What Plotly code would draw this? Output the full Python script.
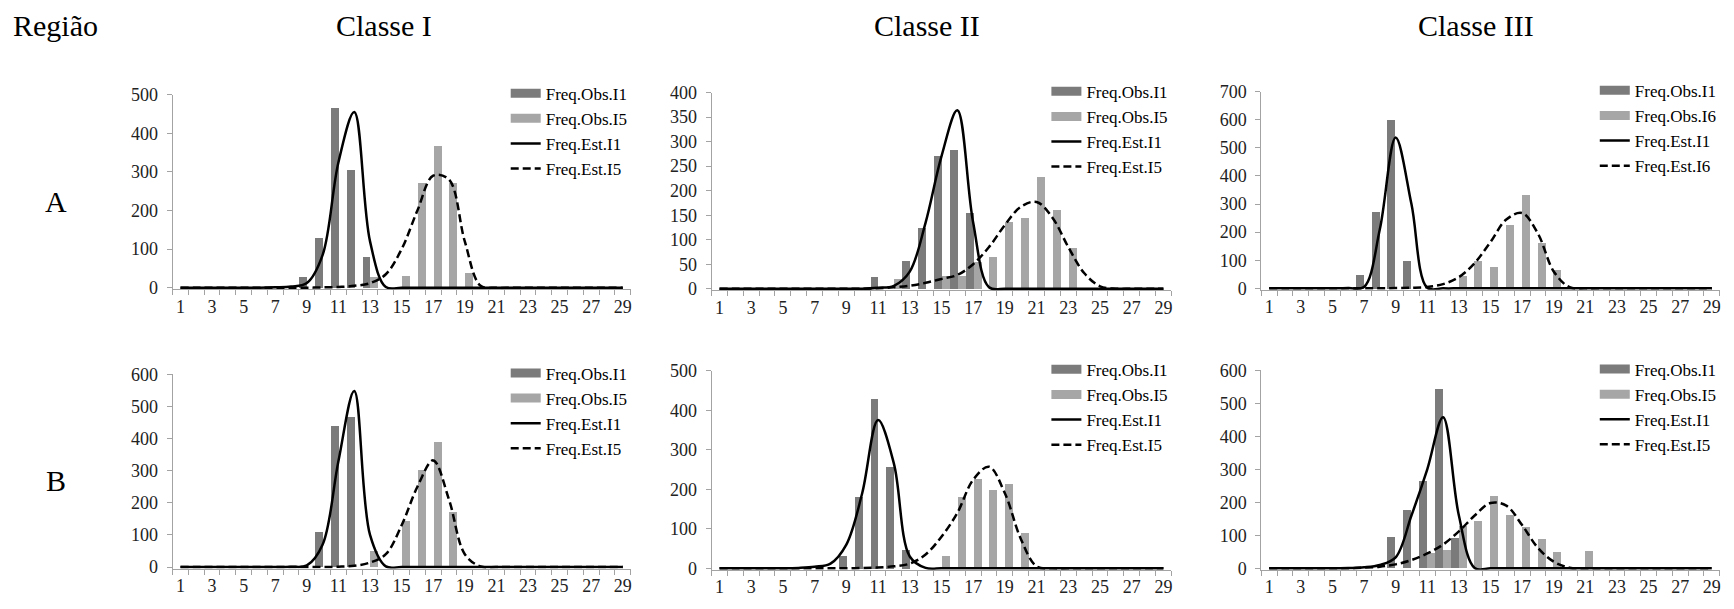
import plotly.graph_objects as go

W, H = 1734, 609

# ---------------- data ----------------
categories = list(range(1, 30))
tick_values = list(range(1, 30, 2))
tick_labels = [str(v) for v in tick_values]

corner_title = "Região"
col_titles = ["Classe I", "Classe II", "Classe III"]
row_titles = ["A", "B"]

# Região A - Classe I
a1_obs_i1 = [0, 0, 0, 0, 0, 0, 0, 0, 28, 130, 467, 307, 81, 0, 0, 0, 0, 0, 0, 0, 0, 0, 0, 0, 0, 0, 0, 0, 0]
a1_obs_i5 = [0, 0, 0, 0, 0, 0, 0, 0, 0, 0, 0, 0, 28, 0, 31, 271, 367, 271, 40, 0, 0, 0, 0, 0, 0, 0, 0, 0, 0]
a1_est_i1 = [0, 0, 0, 0, 0, 0, 1, 3, 12, 85, 325, 455, 120, 2, 0, 0, 0, 0, 0, 0, 0, 0, 0, 0, 0, 0, 0, 0, 0]
a1_est_i5 = [0, 0, 0, 0, 0, 0, 0, 0, 0, 1, 2, 5, 12, 35, 100, 200, 290, 280, 120, 5, 0, 0, 0, 0, 0, 0, 0, 0, 0]

# Região A - Classe II
a2_obs_i1 = [0, 0, 0, 0, 0, 0, 0, 0, 0, 0, 24, 0, 58, 125, 271, 284, 155, 0, 0, 0, 0, 0, 0, 0, 0, 0, 0, 0, 0]
a2_obs_i5 = [0, 0, 0, 0, 0, 0, 0, 0, 0, 0, 0, 21, 0, 0, 26, 27, 55, 65, 137, 144, 228, 161, 84, 0, 0, 0, 0, 0, 0]
a2_est_i1 = [0, 0, 0, 0, 0, 0, 0, 0, 0, 0, 2, 6, 35, 135, 270, 364, 135, 3, 0, 0, 0, 0, 0, 0, 0, 0, 0, 0, 0]
a2_est_i5 = [0, 0, 0, 0, 0, 0, 0, 0, 0, 0, 1, 3, 6, 12, 20, 28, 50, 85, 130, 167, 177, 145, 85, 32, 5, 0, 0, 0, 0]

# Região A - Classe III
a3_obs_i1 = [0, 0, 0, 0, 0, 0, 48, 272, 600, 98, 0, 0, 0, 0, 0, 0, 0, 0, 0, 0, 0, 0, 0, 0, 0, 0, 0, 0, 0]
a3_obs_i6 = [0, 0, 0, 0, 0, 0, 0, 0, 0, 0, 0, 0, 45, 98, 77, 226, 333, 163, 66, 0, 0, 0, 0, 0, 0, 0, 0, 0, 0]
a3_est_i1 = [0, 0, 0, 0, 0, 1, 5, 210, 537, 300, 2, 0, 0, 0, 0, 0, 0, 0, 0, 0, 0, 0, 0, 0, 0, 0, 0, 0, 0]
a3_est_i6 = [0, 0, 0, 0, 0, 0, 0, 0, 1, 2, 5, 15, 40, 90, 165, 245, 268, 195, 60, 4, 0, 0, 0, 0, 0, 0, 0, 0, 0]

# Região B - Classe I
b1_obs_i1 = [0, 0, 0, 0, 0, 0, 0, 0, 0, 108, 437, 467, 0, 0, 0, 0, 0, 0, 0, 0, 0, 0, 0, 0, 0, 0, 0, 0, 0]
b1_obs_i5 = [0, 0, 0, 0, 0, 0, 0, 0, 0, 0, 0, 0, 48, 0, 141, 300, 387, 172, 0, 0, 0, 0, 0, 0, 0, 0, 0, 0, 0]
b1_est_i1 = [0, 0, 0, 0, 0, 0, 0, 1, 5, 70, 330, 548, 100, 2, 0, 0, 0, 0, 0, 0, 0, 0, 0, 0, 0, 0, 0, 0, 0]
b1_est_i5 = [0, 0, 0, 0, 0, 0, 0, 0, 0, 0, 1, 4, 14, 40, 130, 250, 332, 210, 40, 2, 0, 0, 0, 0, 0, 0, 0, 0, 0]

# Região B - Classe II
b2_obs_i1 = [0, 0, 0, 0, 0, 0, 0, 0, 33, 180, 430, 256, 46, 0, 0, 0, 0, 0, 0, 0, 0, 0, 0, 0, 0, 0, 0, 0, 0]
b2_obs_i5 = [0, 0, 0, 0, 0, 0, 0, 0, 0, 0, 0, 0, 0, 0, 33, 180, 228, 200, 215, 90, 0, 0, 0, 0, 0, 0, 0, 0, 0]
b2_est_i1 = [0, 0, 0, 0, 0, 1, 4, 12, 60, 190, 375, 265, 30, 1, 0, 0, 0, 0, 0, 0, 0, 0, 0, 0, 0, 0, 0, 0, 0]
b2_est_i5 = [0, 0, 0, 0, 0, 0, 0, 0, 0, 1, 2, 5, 12, 35, 80, 140, 224, 257, 190, 75, 5, 0, 0, 0, 0, 0, 0, 0, 0]

# Região B - Classe III
b3_obs_i1 = [0, 0, 0, 0, 0, 0, 0, 0, 95, 175, 265, 542, 90, 0, 0, 0, 0, 0, 0, 0, 0, 0, 0, 0, 0, 0, 0, 0, 0]
b3_obs_i5 = [0, 0, 0, 0, 0, 0, 0, 0, 0, 0, 45, 55, 128, 141, 218, 160, 123, 87, 49, 0, 52, 0, 0, 0, 0, 0, 0, 0, 0]
b3_est_i1 = [0, 0, 0, 0, 0, 1, 3, 10, 33, 160, 300, 458, 160, 1, 0, 0, 0, 0, 0, 0, 0, 0, 0, 0, 0, 0, 0, 0, 0]
b3_est_i5 = [0, 0, 0, 0, 0, 0, 2, 5, 12, 25, 45, 72, 112, 160, 198, 190, 131, 62, 20, 2, 0, 0, 0, 0, 0, 0, 0, 0, 0]

panels = [
    dict(obs=[a1_obs_i1, a1_obs_i5], est=[a1_est_i1, a1_est_i5],
         obs_names=["Freq.Obs.I1", "Freq.Obs.I5"], est_names=["Freq.Est.I1", "Freq.Est.I5"], ymax=500, dtick=100),
    dict(obs=[a2_obs_i1, a2_obs_i5], est=[a2_est_i1, a2_est_i5],
         obs_names=["Freq.Obs.I1", "Freq.Obs.I5"], est_names=["Freq.Est.I1", "Freq.Est.I5"], ymax=400, dtick=50),
    dict(obs=[a3_obs_i1, a3_obs_i6], est=[a3_est_i1, a3_est_i6],
         obs_names=["Freq.Obs.I1", "Freq.Obs.I6"], est_names=["Freq.Est.I1", "Freq.Est.I6"], ymax=700, dtick=100),
    dict(obs=[b1_obs_i1, b1_obs_i5], est=[b1_est_i1, b1_est_i5],
         obs_names=["Freq.Obs.I1", "Freq.Obs.I5"], est_names=["Freq.Est.I1", "Freq.Est.I5"], ymax=600, dtick=100),
    dict(obs=[b2_obs_i1, b2_obs_i5], est=[b2_est_i1, b2_est_i5],
         obs_names=["Freq.Obs.I1", "Freq.Obs.I5"], est_names=["Freq.Est.I1", "Freq.Est.I5"], ymax=500, dtick=100),
    dict(obs=[b3_obs_i1, b3_obs_i5], est=[b3_est_i1, b3_est_i5],
         obs_names=["Freq.Obs.I1", "Freq.Obs.I5"], est_names=["Freq.Est.I1", "Freq.Est.I5"], ymax=600, dtick=100),
]

# ---------------- geometry / style ----------------
# (left px, right px, top px, zero-line px) for each panel
geom = [
    (172.7, 631.0, 87.3, 286.7),
    (712.0, 1172.0, 85.3, 287.7),
    (1262.0, 1720.7, 84.3, 287.3),
    (172.7, 631.0, 376.0, 575.0),
    (712.0, 1172.0, 372.3, 576.3),
    (1262.0, 1720.7, 372.0, 576.3),
]

SERIF = "Liberation Serif"
BAR_COLORS = ["#7b7b7b", "#a6a6a6"]
AXIS_COLOR = "#a3a3a3"
LINE_DASH = ["solid", "8px,4px"]

fig = go.Figure()
layout = dict(
    width=W, height=H,
    margin=dict(l=0, r=0, t=0, b=0),
    paper_bgcolor="white", plot_bgcolor="white",
    barmode="group", bargap=0, bargroupgap=0,
    font=dict(family=SERIF, color="black"),
    annotations=[],
)

for i, (p, g) in enumerate(zip(panels, geom)):
    n = i + 1
    sfx = "" if n == 1 else str(n)
    xa, ya = "x" + sfx, "y" + sfx
    leg = "legend" + sfx
    x0, x1, ytop, yzero = g
    pad_px = 1.5
    plot_h = yzero - ytop
    ypad = pad_px * p["ymax"] / plot_h

    # observed frequencies (bars)
    for k in range(2):
        fig.add_trace(go.Bar(
            x=categories, y=p["obs"][k], name=p["obs_names"][k],
            marker=dict(color=BAR_COLORS[k], line=dict(width=0)),
            xaxis=xa, yaxis=ya, showlegend=False,
        ))
    # legend keys for bars (wide rectangle look, as in the original)
    for k in range(2):
        fig.add_trace(go.Scatter(
            x=[None], y=[None], name=p["obs_names"][k], mode="lines",
            line=dict(color=BAR_COLORS[k], width=9),
            xaxis=xa, yaxis=ya, legend=leg, hoverinfo="skip",
        ))
    # estimated frequencies (smoothed lines)
    for k in range(2):
        fig.add_trace(go.Scatter(
            x=categories, y=p["est"][k], name=p["est_names"][k], mode="lines",
            line=dict(color="black", width=2.5, shape="spline", smoothing=1, dash=LINE_DASH[k]),
            xaxis=xa, yaxis=ya, legend=leg,
        ))

    layout["xaxis" + sfx] = dict(
        domain=[x0 / W, x1 / W], anchor=ya,
        range=[0.5, 29.5], tickmode="array", tickvals=tick_values, ticktext=tick_labels,
        ticks="", ticklen=0, showgrid=False, zeroline=False,
        showline=True, linecolor=AXIS_COLOR, linewidth=1, layer="below traces",
        tickfont=dict(family=SERIF, size=18, color="#222"),
        ticklabelstandoff=1,
        minor=dict(tickmode="array", tickvals=[c + 0.5 for c in range(0, 30)],
                   ticks="outside", ticklen=5, tickcolor=AXIS_COLOR, tickwidth=1, showgrid=False),
        fixedrange=True,
    )
    layout["yaxis" + sfx] = dict(
        domain=[1 - (yzero + pad_px) / H, 1 - ytop / H], anchor=xa,
        range=[-ypad, p["ymax"]], tickmode="linear", tick0=0, dtick=p["dtick"],
        ticks="outside", ticklen=5, tickcolor=AXIS_COLOR, tickwidth=1,
        showgrid=False, zeroline=False,
        showline=True, linecolor=AXIS_COLOR, linewidth=1, layer="below traces",
        tickfont=dict(family=SERIF, size=18, color="#222"),
        ticklabelstandoff=5,
        fixedrange=True,
    )
    layout[leg] = dict(
        x=(x1 - 125) / W, xanchor="left",
        y=1 - (ytop - 19.5) / H, yanchor="top",
        bgcolor="rgba(0,0,0,0)", borderwidth=0,
        font=dict(family=SERIF, size=17, color="black"),
        traceorder="normal", itemwidth=30,
    )

# titles
title_font = dict(family=SERIF, size=30, color="black")
layout["annotations"].append(dict(text=corner_title, x=55.5 / W, y=1 - 16.5 / H, xref="paper", yref="paper",
                                  showarrow=False, xanchor="center", yanchor="middle", font=title_font))
for cx, t in zip([384, 928, 1477], col_titles):
    layout["annotations"].append(dict(text=t, x=cx / W, y=1 - 16.5 / H, xref="paper", yref="paper",
                                      showarrow=False, xanchor="center", yanchor="middle", font=title_font))
for cy, t in zip([198, 486], row_titles):
    layout["annotations"].append(dict(text=t, x=56 / W, y=1 - cy / H, xref="paper", yref="paper",
                                      showarrow=False, xanchor="center", yanchor="middle", font=title_font))

fig.update_layout(**layout)
fig.write_html("out.html", config={"displayModeBar": False},
               post_script="document.body.style.margin='0px';")
